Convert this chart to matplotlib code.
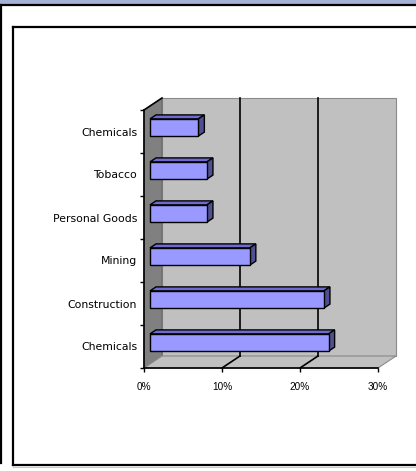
import numpy as np
import matplotlib
matplotlib.use("Agg")
from matplotlib import pyplot as plt
from matplotlib.patches import Polygon, Rectangle
from matplotlib.lines import Line2D

#%% data (top to bottom as shown)
categories = ["Chemicals", "Tobacco", "Personal Goods", "Mining", "Construction", "Chemicals"]
values = [6.2, 7.3, 7.3, 12.8, 22.3, 22.9]   # percent
x_ticks = [0, 10, 20, 30]
x_tick_labels = ["0%", "10%", "20%", "30%"]

# plot bottom-up
cats = categories[::-1]
vals = values[::-1]
n = len(cats)

W, H = 416, 471
fig = plt.figure(figsize=(W / 100, H / 100), dpi=100)
fig.patch.set_facecolor("white")

#%% outer frame decorations
fig.add_artist(Rectangle((0, 1 - 4 / H), 1, 4 / H, transform=fig.transFigure,
                         facecolor="#a3b1d6", edgecolor="none"))
fig.add_artist(Line2D([0, 1], [1 - 5 / H, 1 - 5 / H], transform=fig.transFigure, color="black", lw=1.6))
fig.add_artist(Line2D([1 / W, 1 / W], [1 - 5 / H, 8 / H], transform=fig.transFigure, color="black", lw=1.6))
fig.add_artist(Line2D([12.5 / W, 12.5 / W], [1 - 27 / H, 1 - 465 / H], transform=fig.transFigure, color="black", lw=1.6))
fig.add_artist(Line2D([12.5 / W, 1], [1 - 27 / H, 1 - 27 / H], transform=fig.transFigure, color="black", lw=1.6))
fig.add_artist(Line2D([12.5 / W, 1], [1 - 464.5 / H, 1 - 464.5 / H], transform=fig.transFigure, color="black", lw=1.6))
fig.add_artist(Line2D([13 / W, 1], [1 - 466.5 / H, 1 - 466.5 / H], transform=fig.transFigure, color="#c8c8c8", lw=0.8))

#%% axes = front plane of the 3d box
x0, x1, ytop, ybot = 144, 378, 110, 368
ax = fig.add_axes([x0 / W, 1 - ybot / H, (x1 - x0) / W, (ybot - ytop) / H])
ax.set_xlim(0, 30)
ax.set_ylim(-0.5, n - 0.5)
ax.patch.set_visible(False)

# depth offset in data units (18 px right, 12 px up)
DX = 18 / ((x1 - x0) / 30)
DY = 12 / ((ybot - ytop) / n)
lo, hi = -0.5, n - 0.5
xmax = 30

def poly(pts, **kw):
    p = Polygon(pts, closed=True, clip_on=False, **kw)
    ax.add_patch(p)
    return p

# walls
poly([(DX, lo + DY), (xmax + DX, lo + DY), (xmax + DX, hi + DY), (DX, hi + DY)],
     facecolor="#c0c0c0", edgecolor="#8a8a8a", lw=0.8, zorder=1)
poly([(0, lo), (DX, lo + DY), (DX, hi + DY), (0, hi)],
     facecolor="#808080", edgecolor="#606060", lw=0.6, zorder=1)
poly([(0, lo), (xmax, lo), (xmax + DX, lo + DY), (DX, lo + DY)],
     facecolor="#c0c0c0", edgecolor="#8a8a8a", lw=0.8, zorder=1)

# gridlines on back wall and floor
for g in x_ticks[1:-1]:
    ax.plot([g + DX, g + DX], [lo + DY, hi + DY], color="black", lw=1.2, clip_on=False, zorder=2)
    ax.plot([g, g + DX], [lo, lo + DY], color="black", lw=1.2, clip_on=False, zorder=2)
ax.plot([0, DX], [hi, hi + DY], color="black", lw=1.2, clip_on=False, zorder=2)

#%% 3d bars
f1, f2 = 1 / 3, 2 / 3
h = 0.4
for i, v in enumerate(vals):
    yb, yt = i - h / 2, i + h / 2
    a0, a1 = f1 * DX, v + f1 * DX
    b0, b1 = f2 * DX, v + f2 * DX
    dy1, dy2 = f1 * DY, f2 * DY
    # top face
    poly([(a0, yt + dy1), (a1, yt + dy1), (b1, yt + dy2), (b0, yt + dy2)],
         facecolor="#6b6bd0", edgecolor="black", lw=1.0, zorder=3)
    # side face
    poly([(a1, yb + dy1), (b1, yb + dy2), (b1, yt + dy2), (a1, yt + dy1)],
         facecolor="#505090", edgecolor="black", lw=1.0, zorder=3)
    # front face
    poly([(a0, yb + dy1), (a1, yb + dy1), (a1, yt + dy1), (a0, yt + dy1)],
         facecolor="#9999ff", edgecolor="black", lw=1.0, zorder=4)

#%% axes, ticks and labels
for s in ["top", "right"]:
    ax.spines[s].set_visible(False)
ax.spines["left"].set_linewidth(1.2)
ax.spines["bottom"].set_linewidth(1.2)
ax.spines["left"].set_zorder(5)
ax.spines["bottom"].set_zorder(5)

ax.set_xticks(x_ticks)
ax.set_xticklabels(x_tick_labels, fontsize=7.2, family="Liberation Sans")
ax.tick_params(axis="x", direction="out", length=3, width=1, pad=7)

ax.set_yticks(np.arange(n + 1) - 0.5)
ax.set_yticklabels([])
ax.set_yticks(np.arange(n), minor=True)
ax.set_yticklabels(cats, minor=True, fontsize=7.8, family="DejaVu Sans")
ax.tick_params(axis="y", which="major", direction="out", length=3, width=1)
ax.tick_params(axis="y", which="minor", length=0, pad=5)

fig.savefig("out.png", dpi=100)
